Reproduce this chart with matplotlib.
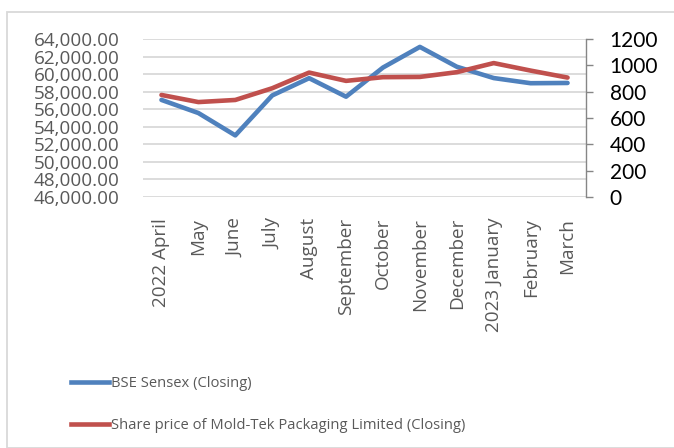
import matplotlib
matplotlib.use("Agg")
import matplotlib.pyplot as plt
from matplotlib.lines import Line2D
from matplotlib.patches import Rectangle

months = ["2022 April", "May", "June", "July", "August", "September", "October",
          "November", "December", "2023 January", "February", "March"]
sensex = [57061, 55567, 53019, 57570, 59537, 57427, 60747, 63100, 60841, 59550, 58962, 58992]
moldtek = [775, 721, 737, 826, 945, 882, 910, 912, 948, 1017, 960, 907]
left_ticks = list(range(46000, 64001, 2000))
right_ticks = list(range(0, 1201, 200))

BLUE = "#4F81BD"
RED = "#C0504D"
GRAY_TXT = "#595959"
GRID = "#D9D9D9"

plt.rcParams['font.family'] = ['Open Sans', 'DejaVu Sans']

W, H = 674, 448
fig = plt.figure(figsize=(W / 100, H / 100), dpi=100)

# chart border
fig.patches.append(Rectangle((7 / W, 0), 1.2, 1 - 12 / H, transform=fig.transFigure,
                             fill=False, edgecolor=GRID, linewidth=1.3))

ax = fig.add_axes([143 / W, 1 - 197 / H, (586 - 143) / W, (197 - 39) / H])
x = list(range(len(months)))
ax.plot(x, sensex, color=BLUE, linewidth=3.3, solid_joinstyle='round', solid_capstyle='round')
ax.set_xlim(-0.5, len(months) - 0.5)
ax.set_ylim(46000, 64000)
ax.set_yticks(left_ticks)
ax.set_yticklabels([f"{v:,.2f}" for v in left_ticks])
ax.tick_params(axis='y', length=0, pad=17, labelsize=13.6, labelcolor=GRAY_TXT)
ax.set_xticks(x)
ax.set_xticklabels(months, rotation=90, ha='center', va='top')
ax.tick_params(axis='x', length=0, pad=15, labelsize=13.6, labelcolor=GRAY_TXT)
ax.grid(axis='y', color=GRID, linewidth=1.3)
ax.set_axisbelow(True)
for s in ax.spines.values():
    s.set_visible(False)

ax2 = ax.twinx()
ax2.plot(x, moldtek, color=RED, linewidth=3.3, solid_joinstyle='round', solid_capstyle='round')
ax2.set_ylim(0, 1200)
ax2.set_yticks(right_ticks)
ax2.set_yticklabels([str(v) for v in right_ticks], family=['Lato', 'DejaVu Sans'])
ax2.tick_params(axis='y', direction='out', length=5, width=1, color="#868686",
                pad=12, labelsize=15, labelcolor="black")
for k, s in ax2.spines.items():
    s.set_visible(k == 'right')
ax2.spines['right'].set_color("#868686")
ax2.spines['right'].set_linewidth(1)

handles = [Line2D([], [], color=BLUE, linewidth=3.3),
           Line2D([], [], color=RED, linewidth=3.3)]
labels = ["BSE Sensex (Closing)", "Share price of Mold-Tek Packaging Limited (Closing)"]
leg = fig.legend(handles, labels, loc='upper left', bbox_to_anchor=(71 / W, 1 - 376 / H),
                 frameon=False, fontsize=10.65, handlelength=2.55, handletextpad=0.15,
                 labelspacing=1.85, borderaxespad=0, borderpad=0)
for t in leg.get_texts():
    t.set_color(GRAY_TXT)

fig.savefig("out.png", dpi=100)
